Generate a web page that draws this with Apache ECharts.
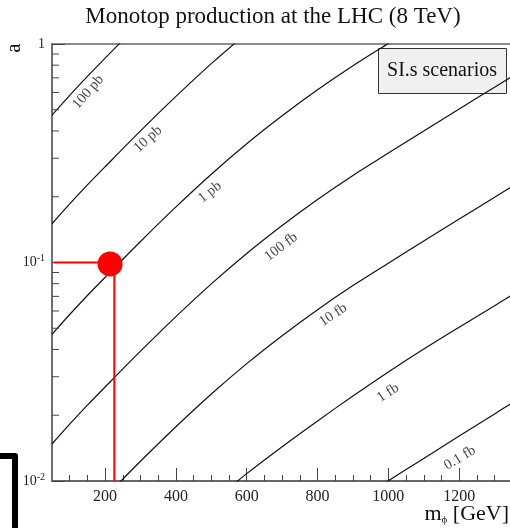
<!DOCTYPE html>
<html>
<head>
<meta charset="utf-8">
<script src="https://cdn.jsdelivr.net/npm/echarts@6/dist/echarts.min.js"></script>
<style>
  html, body { margin: 0; padding: 0; background: #ffffff; }
  #chart { width: 510px; height: 528px; }
</style>
</head>
<body>
<div id="chart"></div>
<script>
// Mediator mass grid (GeV) shared by every iso-cross-section contour
const massGrid = [50, 100, 150, 200, 300, 400, 500, 600, 700, 800, 900, 1000, 1100, 1200, 1300, 1350];

// Coupling a along each contour, aligned with massGrid (null = not drawn)
const a100pb = [0.4725, 0.5821, 0.7112, 0.8614, 1.257, null, null, null, null, null, null, null, null, null, null, null];
const a10pb  = [0.1504, 0.1854, 0.2265, 0.2743, 0.4001, 0.5756, 0.8132, 1.120, null, null, null, null, null, null, null, null];
const a1pb   = [0.04692, 0.05781, 0.07063, 0.08554, 0.1248, 0.1796, 0.2536, 0.3493, 0.4691, 0.6169, 0.7947, 1.006, 1.271, null, null, null];
const a100fb = [0.01477, 0.01820, 0.02223, 0.02693, 0.03928, 0.05652, 0.07984, 0.1100, 0.1477, 0.1942, 0.2502, 0.3167, 0.4001, 0.5043, 0.6342, 0.7116];
const a10fb  = [null, null, null, 0.008437, 0.01231, 0.01771, 0.02501, 0.03445, 0.04626, 0.06084, 0.07840, 0.09924, 0.1254, 0.1580, 0.1987, 0.2230];
const a1fb   = [null, null, null, null, null, null, 0.007962, 0.01081, 0.01436, 0.01884, 0.02449, 0.03155, 0.04018, 0.05058, 0.06346, 0.07105];
const a01fb  = [null, null, null, null, null, null, null, null, null, null, 0.00790, 0.01003, 0.01269, 0.01605, 0.02028, 0.02280];

// Contour names, the arrays above, and where each name sits [mass, a, angle]
const contourNames  = ['100 pb', '10 pb', '1 pb', '100 fb', '10 fb', '1 fb', '0.1 fb'];
const contourValues = [a100pb, a10pb, a1pb, a100fb, a10fb, a1fb, a01fb];
const contourLabelPos = [
  [152, 0.603, 49],
  [321, 0.367, 42],
  [496, 0.210, 38],
  [697, 0.1178, 37],
  [844, 0.0575, 34],
  [999, 0.0253, 33],
  [1202, 0.01274, 31]
];

// Benchmark point and its guide lines
const benchmarkPoint = [214, 0.0985];
const guideHorizontal = [[55, 0.1], [214, 0.1]];
const guideVertical = [[226, 0.0985], [226, 0.01]];

// Axis ranges and tick positions
const xRange = [50, 1400];
const yRange = [0.01, 1];
const xMajorTicks = [200, 400, 600, 800, 1000, 1200, 1400];
const xMinorTicks = [100, 150, 250, 300, 350, 450, 500, 550, 650, 700, 750, 850, 900, 950, 1050, 1100, 1150, 1250, 1300, 1350];
const yMinorTicks = [0.02, 0.03, 0.04, 0.05, 0.06, 0.07, 0.08, 0.09, 0.2, 0.3, 0.4, 0.5, 0.6, 0.7, 0.8, 0.9];

const SERIF = '"Liberation Serif", "DejaVu Serif", serif';
const TICK_COLOR = '#444';
const FRAME_COLOR = '#666';

// Short inward ticks on the left edge at the log-axis minor positions
const yMinorTickSeries = {
  type: 'custom',
  coordinateSystem: 'cartesian2d',
  silent: true,
  z: 4,
  data: yMinorTicks.map(v => [xRange[0], v]),
  renderItem: function (params, api) {
    const p = api.coord([xRange[0], api.value(1)]);
    return {
      type: 'line',
      shape: { x1: p[0], y1: p[1], x2: p[0] + 7, y2: p[1] },
      style: { stroke: TICK_COLOR, lineWidth: 1 }
    };
  }
};

const contourSeries = contourNames.map((name, i) => ({
  name: name,
  type: 'line',
  data: massGrid.map((m, j) => [m, contourValues[i][j]]),
  showSymbol: false,
  symbol: 'none',
  smooth: 0.3,
  clip: true,
  lineStyle: { color: '#111', width: 1.2 },
  z: 3
}));

const chart = echarts.init(document.getElementById('chart'), null, { renderer: 'canvas' });

chart.setOption({
  animation: false,
  backgroundColor: '#ffffff',
  grid: {
    left: 52, top: 44, width: 478, height: 437,
    outerBoundsMode: 'none',
    containLabel: false,
    show: true, borderColor: FRAME_COLOR, borderWidth: 1.5,
    backgroundColor: 'transparent'
  },
  xAxis: [
    {
      type: 'value',
      min: xRange[0], max: xRange[1],
      splitNumber: 7,
      axisLine: { show: true, lineStyle: { color: FRAME_COLOR, width: 1.5 } },
      axisTick: {
        show: true, inside: true, length: 13,
        customValues: xMajorTicks,
        lineStyle: { color: TICK_COLOR, width: 1 }
      },
      splitLine: { show: false },
      axisLabel: {
        customValues: xMajorTicks,
        margin: 8,
        fontFamily: SERIF, fontSize: 16, color: '#222',
        formatter: v => String(v)
      }
    },
    {
      type: 'value',
      position: 'bottom',
      min: xRange[0], max: xRange[1],
      axisLine: { show: true, lineStyle: { color: FRAME_COLOR, width: 1.5 } },
      axisTick: {
        show: true, inside: true, length: 6,
        customValues: xMinorTicks,
        lineStyle: { color: TICK_COLOR, width: 1 }
      },
      splitLine: { show: false },
      axisLabel: { show: false }
    }
  ],
  yAxis: {
    type: 'log',
    logBase: 10,
    min: yRange[0], max: yRange[1],
    axisLine: { show: true, lineStyle: { color: FRAME_COLOR, width: 1.5 } },
    axisTick: { show: true, inside: true, length: 13, lineStyle: { color: TICK_COLOR, width: 1 } },
    splitLine: { show: false },
    minorTick: { show: false },
    axisLabel: {
      margin: 7,
      formatter: function (v) {
        const e = Math.round(Math.log10(v));
        if (e === 0) return '{n|1}';
        return '{n|10}{s|' + e + '}';
      },
      rich: {
        n: { fontFamily: SERIF, fontSize: 14, color: '#222', lineHeight: 18 },
        s: { fontFamily: SERIF, fontSize: 10, color: '#222', lineHeight: 8, verticalAlign: 'top' }
      }
    }
  },
  series: [
    ...contourSeries,
    {
      type: 'scatter',
      silent: true,
      symbolSize: 0,
      z: 5,
      data: contourLabelPos.map((p, i) => ({
        value: [p[0], p[1]],
        name: contourNames[i],
        label: { rotate: p[2] }
      })),
      label: {
        show: true,
        position: 'inside',
        formatter: '{b}',
        fontFamily: SERIF, fontSize: 14.5, color: '#111'
      }
    },
    yMinorTickSeries,
    {
      type: 'line',
      data: guideHorizontal,
      symbol: 'none',
      lineStyle: { color: '#ff0000', width: 2 },
      z: 6
    },
    {
      type: 'line',
      data: guideVertical,
      symbol: 'none',
      lineStyle: { color: '#ff0000', width: 2 },
      z: 6
    },
    {
      type: 'scatter',
      data: [benchmarkPoint],
      symbol: 'circle',
      symbolSize: 25,
      itemStyle: { color: '#ff0000', opacity: 1 },
      z: 7
    }
  ],
  graphic: [
    {
      type: 'text',
      x: 273, y: 17,
      style: {
        text: 'Monotop production at the LHC (8 TeV)',
        font: '23px ' + SERIF,
        fill: '#111',
        align: 'center',
        verticalAlign: 'middle'
      }
    },
    {
      type: 'text',
      x: 14, y: 48,
      rotation: Math.PI / 2,
      style: {
        text: 'a',
        font: '21px ' + SERIF,
        fill: '#111',
        align: 'center',
        verticalAlign: 'middle'
      }
    },
    {
      type: 'text',
      x: 509, y: 514,
      style: {
        text: '{m|m}{sub|\u03d5}{m| [GeV]}',
        align: 'right',
        verticalAlign: 'middle',
        rich: {
          m: { font: '22px ' + SERIF, fill: '#111', lineHeight: 24 },
          sub: { font: '11px ' + SERIF, fill: '#111', lineHeight: 8, verticalAlign: 'bottom' }
        }
      }
    },
    {
      type: 'group',
      z: 100,
      children: [
        {
          type: 'rect',
          shape: { x: 378.5, y: 48.5, width: 128, height: 45 },
          style: { fill: '#f0f0f0', stroke: '#333', lineWidth: 1 }
        },
        {
          type: 'text',
          x: 442, y: 71,
          style: {
            text: 'SI.s scenarios',
            font: '20px ' + SERIF,
            fill: '#111',
            align: 'center',
            verticalAlign: 'middle'
          }
        }
      ]
    },
    {
      type: 'polyline',
      shape: { points: [[0, 456], [15, 456], [15, 532]] },
      style: { stroke: '#000', lineWidth: 6, fill: null, lineJoin: 'round' },
      z: 100
    }
  ]
});
</script>
</body>
</html>
